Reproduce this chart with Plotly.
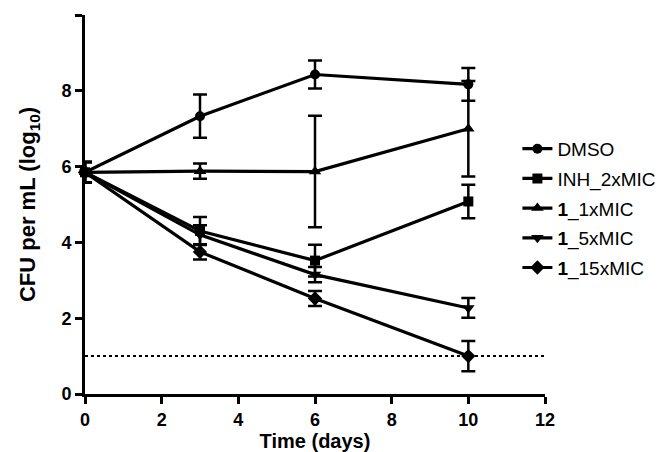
import plotly.graph_objects as go

days = [0, 3, 6, 10]
series_names = ["DMSO", "INH_2xMIC", "<b>1</b>_1xMIC", "<b>1</b>_5xMIC", "<b>1</b>_15xMIC"]
dmso = [5.85, 7.33, 8.43, 8.17]
dmso_err = [0.27, 0.57, 0.37, 0.43]
inh = [5.85, 4.30, 3.52, 5.08]
inh_err = [0.27, 0.37, 0.42, 0.44]
mic1 = [5.85, 5.88, 5.87, 7.00]
mic1_err = [0.27, 0.20, 1.47, 1.26]
mic5 = [5.85, 4.20, 3.15, 2.27]
mic5_err = [0.27, 0.25, 0.20, 0.26]
mic15 = [5.85, 3.75, 2.52, 1.00]
mic15_err = [0.27, 0.20, 0.20, 0.40]
detection_limit = 1.0
x_ticks = [0, 2, 4, 6, 8, 10, 12]
y_ticks = [0, 2, 4, 6, 8, 10]

values = [dmso, inh, mic1, mic5, mic15]
errors = [dmso_err, inh_err, mic1_err, mic5_err, mic15_err]
symbols = ["circle", "square", "triangle-up", "triangle-down", "diamond"]
sizes = [10, 10, 11, 11, 11]

FONT = "Liberation Sans, Arial, sans-serif"

fig = go.Figure()
fig.add_trace(go.Scatter(
    x=[x_ticks[0], x_ticks[-1]], y=[detection_limit, detection_limit],
    mode="lines", line=dict(color="black", width=2, dash="dot"),
    showlegend=False, hoverinfo="skip"))

for i, (name, v, e, s, sz) in enumerate(zip(series_names, values, errors, symbols, sizes)):
    fig.add_trace(go.Scatter(
        x=days, y=v, name=name, mode="lines+markers", legendgroup=f"g{i}",
        line=dict(color="black", width=3.2),
        marker=dict(symbol=s, size=sz, color="black"),
        error_y=dict(type="data", array=e, visible=True, color="black",
                     thickness=2.5, width=7),
        cliponaxis=False))

fig.update_layout(
    width=666, height=452,
    margin=dict(l=77, r=129, t=7, b=66),
    plot_bgcolor="white", paper_bgcolor="white",
    font=dict(family=FONT, color="black", size=18),
    legend=dict(x=0.94, y=0.697, xanchor="left", yanchor="top",
                font=dict(family=FONT, size=19, color="black"),
                tracegroupgap=2, itemwidth=30, bgcolor="rgba(0,0,0,0)"),
)
fig.update_xaxes(
    range=[0, 12], tickvals=x_ticks, showgrid=False, zeroline=False,
    showline=True, linecolor="black", linewidth=3,
    ticks="outside", ticklen=7, tickwidth=3, tickcolor="black",
    tickfont=dict(family=FONT, size=18, color="black", weight="bold"),
    title=dict(text="<b>Time (days)</b>", font=dict(family=FONT, size=20), standoff=6))
fig.update_yaxes(
    range=[0, 10], tickvals=y_ticks, showgrid=False, zeroline=False,
    showline=True, linecolor="black", linewidth=3,
    ticks="outside", ticklen=7, tickwidth=3, tickcolor="black",
    tickfont=dict(family=FONT, size=18, color="black", weight="bold"),
    title=dict(text="<b>CFU per mL (log<sub>10</sub>)</b>", font=dict(family=FONT, size=22), standoff=20))

fig.write_html("out.html")
